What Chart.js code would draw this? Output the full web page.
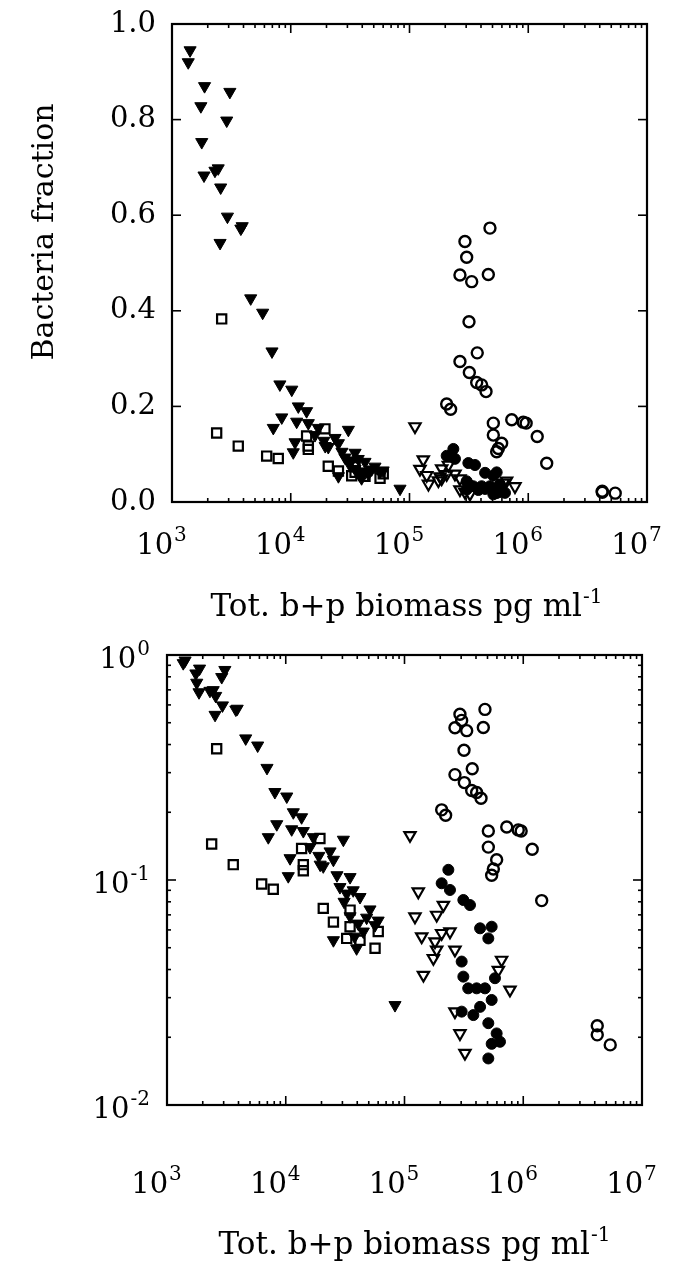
<!DOCTYPE html>
<html>
<head>
<meta charset="utf-8">
<title>Bacteria fraction vs biomass</title>
<script src="https://cdn.jsdelivr.net/npm/chart.js@4.4.1/dist/chart.umd.min.js"></script>
<style>
  html, body { margin: 0; padding: 0; background: #fff; }
  #wrap { position: relative; width: 676px; height: 1266px; }
  .panel { position: absolute; left: 0; width: 676px; height: 633px; }
  #topPanel { top: 0; }
  #bottomPanel { top: 633px; }
</style>
</head>
<body>
<div id="wrap">
  <div class="panel" id="topPanel"><canvas id="linChart" width="676" height="633"></canvas></div>
  <div class="panel" id="bottomPanel"><canvas id="logChart" width="676" height="633"></canvas></div>
</div>
<script>
// tick positions
var xDecades = [3, 4, 5, 6, 7];
var linTicks = [0.0, 0.2, 0.4, 0.6, 0.8, 1.0];
var logDecades = [-2, -1, 0];

// filled down-triangles
var solidTriX = [1420, 1370, 1880, 3070, 1750, 2890, 1780, 1860, 2300, 2450, 2570, 2930, 3800, 3900, 2540,
  4600, 5800, 6950, 8100, 10200, 11580, 13600, 8400, 7130, 11220, 14060, 17060, 30560, 10870, 10500,
  23600, 25200, 20700, 19500, 34800, 28600, 32600, 37000, 42200, 51200, 34800, 40800, 56500, 45000,
  25200, 39500, 38000, 16000, 19000, 27000, 31000, 48000, 60000, 83200];
var solidTriY = [0.945, 0.92, 0.87, 0.858, 0.828, 0.798, 0.753, 0.683, 0.693, 0.698, 0.658, 0.597, 0.572, 0.577, 0.542,
  0.426, 0.396, 0.315, 0.246, 0.235, 0.2, 0.19, 0.177, 0.155, 0.168, 0.165, 0.155, 0.151, 0.125, 0.104,
  0.134, 0.123, 0.115, 0.117, 0.103, 0.093, 0.087, 0.09, 0.084, 0.074, 0.069, 0.064, 0.063, 0.059,
  0.054, 0.0497, 0.056, 0.14, 0.128, 0.105, 0.08, 0.068, 0.066, 0.0278];

// open squares
var openSqX = [2620, 2377, 3614, 6270, 7850, 13600, 19400, 14060, 14060, 20700, 25200, 32600, 34800, 42200, 60100, 56500, 34800];
var openSqY = [0.383, 0.1445, 0.117, 0.096, 0.091, 0.138, 0.153, 0.117, 0.110, 0.0748, 0.065, 0.055, 0.0735, 0.054, 0.059, 0.0497, 0.062];

// open down-triangles
var openTriX = [111200, 130600, 122500, 212500, 186600, 139600, 241500, 205500, 180700, 186600, 175000, 266000,
  144300, 657000, 617000, 773000, 266000, 293000, 323000];
var openTriY = [0.158, 0.0887, 0.0687, 0.0774, 0.0699, 0.056, 0.0589, 0.058, 0.0532, 0.0489, 0.0449, 0.0489,
  0.0378, 0.0441, 0.0398, 0.0325, 0.026, 0.0208, 0.017];

// filled circles
var solidCircX = [234000, 205600, 241500, 313000, 356000, 433000, 542000, 508000, 303000, 313000, 344000, 405000,
  476000, 578000, 542000, 433000, 380000, 303000, 508000, 597000, 637000, 542000, 508000];
var solidCircY = [0.111, 0.0967, 0.0903, 0.0815, 0.0774, 0.061, 0.062, 0.055, 0.0434, 0.0372, 0.033, 0.033,
  0.033, 0.0366, 0.0293, 0.0273, 0.0251, 0.026, 0.0231, 0.0208, 0.0191, 0.0187, 0.0161];

// open circles
var openCircX = [476000, 293000, 303000, 266000, 334000, 461000, 317000, 372000, 266000, 319000, 368000, 405000,
  441000, 205600, 222000, 508000, 508000, 597000, 560000, 542000, 726000, 908000, 960000, 1190000, 1430000,
  4200000, 4200000, 5400000];
var openCircY = [0.573, 0.545, 0.512, 0.475, 0.461, 0.476, 0.377, 0.312, 0.294, 0.271, 0.250, 0.245,
  0.231, 0.205, 0.194, 0.165, 0.140, 0.123, 0.112, 0.105, 0.172, 0.167, 0.165, 0.137, 0.081,
  0.0225, 0.0205, 0.0185];

var FONT = 'DejaVu Serif';
var LABEL_SIZE = 29;
var EXP_SIZE = 20;
var X_TITLE = 'Tot. b+p biomass pg ml';
var Y_TITLE = 'Bacteria fraction';

function pts(xs, ys) {
  return xs.map(function (x, i) { return { x: x, y: ys[i] }; });
}

function seriesList() {
  return [
    { data: pts(solidTriX, solidTriY), pointStyle: 'triangle', rotation: 180, pointRadius: 7,
      backgroundColor: '#000', borderColor: '#000', borderWidth: 1 },
    { data: pts(openSqX, openSqY), pointStyle: 'rect', pointRadius: 6.5,
      backgroundColor: 'rgba(0,0,0,0)', borderColor: '#000', borderWidth: 2.2 },
    { data: pts(openTriX, openTriY), pointStyle: 'triangle', rotation: 180, pointRadius: 6.5,
      backgroundColor: 'rgba(0,0,0,0)', borderColor: '#000', borderWidth: 2.2 },
    { data: pts(solidCircX, solidCircY), pointStyle: 'circle', pointRadius: 5.5,
      backgroundColor: '#000', borderColor: '#000', borderWidth: 1 },
    { data: pts(openCircX, openCircY), pointStyle: 'circle', pointRadius: 5.5,
      backgroundColor: 'rgba(0,0,0,0)', borderColor: '#000', borderWidth: 2.4 }
  ];
}

function font(size) { return size + 'px "' + FONT + '"'; }

// text followed by a raised, smaller exponent; x is the centre or right edge, y the baseline
function drawWithExp(ctx, base, sup, x, y, align, size, supSize, raise) {
  ctx.font = font(size);
  var wb = ctx.measureText(base).width;
  ctx.font = font(supSize);
  var we = ctx.measureText(sup).width;
  var x0 = align === 'center' ? x - (wb + we) / 2 : x - (wb + we);
  ctx.textAlign = 'left';
  ctx.textBaseline = 'alphabetic';
  ctx.font = font(size);
  ctx.fillText(base, x0, y);
  ctx.font = font(supSize);
  ctx.fillText(sup, x0 + wb + 1, y - raise);
}

// inward tick marks on all four sides, the frame, tick labels and axis titles
var frameTicks = {
  id: 'frameTicks',
  afterDraw: function (chart, args, opts) {
    var ctx = chart.ctx, a = chart.chartArea;
    var xs = chart.scales.x, ys = chart.scales.y;
    function seg(x1, y1, x2, y2) {
      ctx.beginPath(); ctx.moveTo(x1, y1); ctx.lineTo(x2, y2); ctx.stroke();
    }
    ctx.save();
    ctx.strokeStyle = '#000';
    ctx.fillStyle = '#000';
    ctx.lineWidth = 1.6;
    var lastX = xDecades[xDecades.length - 1];
    for (var e = xDecades[0]; e <= lastX; e++) {
      for (var m = 1; m < 10; m++) {
        if (e === lastX && m > 1) break;
        var px = xs.getPixelForValue(m * Math.pow(10, e));
        var len = m === 1 ? 9 : 4;
        seg(px, a.bottom, px, a.bottom - len);
        seg(px, a.top, px, a.top + len);
      }
    }
    xDecades.forEach(function (d) {
      drawWithExp(ctx, '10', String(d), xs.getPixelForValue(Math.pow(10, d)) - 11,
        a.bottom + opts.xLabelDrop, 'center', LABEL_SIZE, EXP_SIZE, 13);
    });
    if (ys.type === 'logarithmic') {
      var lastY = logDecades[logDecades.length - 1];
      for (var k = logDecades[0]; k <= lastY; k++) {
        for (var n = 1; n < 10; n++) {
          if (k === lastY && n > 1) break;
          var py = ys.getPixelForValue(n * Math.pow(10, k));
          var l2 = n === 1 ? 9 : 4;
          seg(a.left, py, a.left + l2, py);
          seg(a.right, py, a.right - l2, py);
        }
      }
      logDecades.forEach(function (d) {
        drawWithExp(ctx, '10', String(d), a.left - 18, ys.getPixelForValue(Math.pow(10, d)) + 13,
          'right', LABEL_SIZE, EXP_SIZE, 13);
      });
    } else {
      ctx.font = font(LABEL_SIZE);
      ctx.textAlign = 'right';
      ctx.textBaseline = 'middle';
      linTicks.forEach(function (v) {
        var py = ys.getPixelForValue(v);
        seg(a.left, py, a.left + 9, py);
        seg(a.right, py, a.right - 9, py);
        ctx.fillText(v.toFixed(1), a.left - 16, py);
      });
    }
    ctx.lineWidth = 2.2;
    ctx.strokeRect(a.left, a.top, a.right - a.left, a.bottom - a.top);

    // axis titles
    drawWithExp(ctx, X_TITLE, '-1', opts.xTitle[0], opts.xTitle[1], 'center', 31, 20, 13);
    ctx.save();
    ctx.translate(opts.yTitle[0], opts.yTitle[1]);
    ctx.rotate(-Math.PI / 2);
    ctx.font = font(30);
    ctx.textAlign = 'center';
    ctx.textBaseline = 'middle';
    ctx.fillText(Y_TITLE, 0, 0);
    ctx.restore();
    ctx.restore();
  }
};

function buildPanel(id, yScale, box) {
  return new Chart(document.getElementById(id), {
    type: 'scatter',
    data: { datasets: seriesList() },
    options: {
      responsive: false,
      animation: false,
      events: [],
      layout: { autoPadding: false, padding: { top: box.top, right: box.right, left: 0, bottom: 0 } },
      plugins: {
        legend: { display: false },
        tooltip: { enabled: false },
        frameTicks: { xLabelDrop: box.xLabelDrop, xTitle: box.xTitle, yTitle: box.yTitle }
      },
      scales: {
        x: {
          type: 'logarithmic', min: 1e3, max: 1e7,
          grid: { display: false, drawTicks: false },
          border: { display: false },
          ticks: { display: false },
          afterFit: function (s) { s.height = box.xHeight; }
        },
        y: yScale
      }
    },
    plugins: [frameTicks]
  });
}

buildPanel('linChart', {
  type: 'linear', min: 0, max: 1,
  grid: { display: false, drawTicks: false },
  border: { display: false },
  ticks: { display: false },
  afterFit: function (s) { s.width = 172; }
}, { top: 24, right: 29, xHeight: 131, xLabelDrop: 52, xTitle: [406, 616], yTitle: [45, 232] });

buildPanel('logChart', {
  type: 'logarithmic', min: 0.01, max: 1,
  grid: { display: false, drawTicks: false },
  border: { display: false },
  ticks: { display: false },
  afterFit: function (s) { s.width = 167; }
}, { top: 22, right: 34, xHeight: 161, xLabelDrop: 88, xTitle: [414, 621], yTitle: [45, 875] });
</script>
</body>
</html>
